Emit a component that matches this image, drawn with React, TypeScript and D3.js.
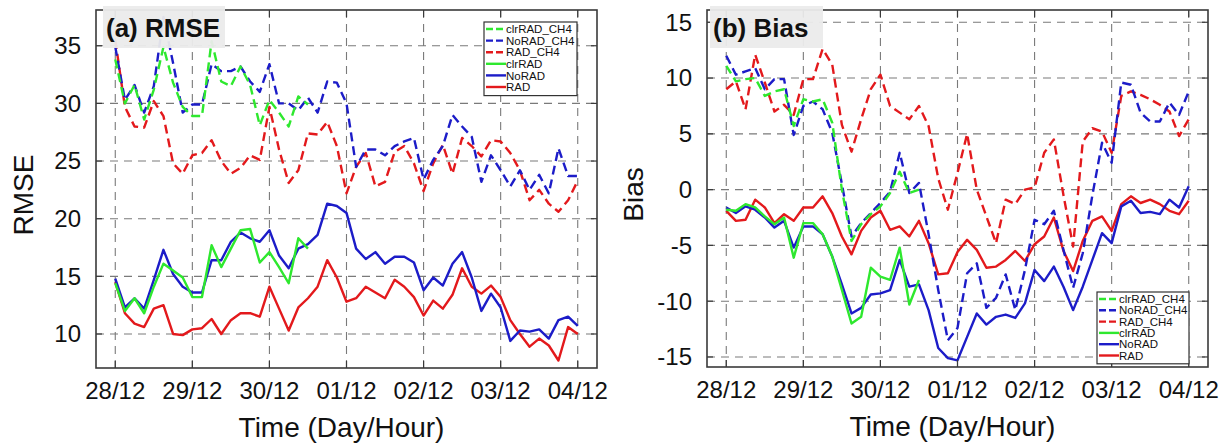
import React from "react";
import * as d3 from "d3";

// time axis: hours since 28/12 00h, 3-hourly samples
const dayLabels = ["28/12", "29/12", "30/12", "01/12", "02/12", "03/12", "04/12"];
const stepHours = 3;

// (a) RMSE
const rmseRAD = [14.5, 11.8, 10.9, 10.6, 12.2, 12.5, 10.0, 9.9, 10.4, 10.5, 11.3, 10.0, 11.2, 11.8, 11.8, 11.5, 14.1, 12.2, 10.3, 12.3, 13.1, 14.1, 16.4, 14.9, 12.8, 13.1, 14.1, 13.6, 13.1, 14.7, 14.1, 13.2, 11.6, 12.9, 12.2, 13.4, 15.7, 14.1, 13.5, 14.2, 13.2, 11.2, 10.0, 8.9, 9.6, 9.0, 7.7, 10.6, 10.0];
const rmseNoRAD = [14.8, 12.3, 13.1, 12.2, 14.7, 17.3, 15.2, 14.1, 13.6, 13.6, 16.4, 16.4, 18.0, 18.8, 18.3, 18.0, 19.0, 16.8, 15.7, 17.4, 17.8, 18.6, 21.3, 21.1, 20.5, 17.4, 16.5, 17.1, 16.1, 16.7, 16.7, 16.2, 13.8, 14.9, 14.2, 16.1, 17.1, 14.9, 12.0, 13.5, 12.3, 9.4, 10.3, 10.2, 10.4, 9.6, 11.2, 11.5, 10.7];
const rmseClrRAD = [14.4, 12.0, 13.1, 11.8, 14.1, 16.1, 15.5, 14.9, 13.2, 13.2, 17.7, 15.8, 17.4, 19.0, 19.1, 16.2, 17.1, 15.8, 14.4, 18.3, 17.4];
const rmseRADCH4 = [35.5, 29.7, 28.0, 27.9, 30.2, 28.9, 24.8, 23.9, 25.5, 25.7, 26.8, 25.0, 23.9, 24.4, 25.5, 25.1, 29.7, 26.0, 23.1, 24.2, 27.4, 27.3, 28.4, 26.3, 22.2, 24.5, 25.7, 22.8, 23.2, 25.8, 26.3, 24.8, 22.4, 24.8, 26.4, 23.9, 27.0, 26.3, 25.4, 26.8, 26.7, 25.7, 24.2, 21.6, 22.5, 21.3, 20.6, 21.6, 23.3];
const rmseNoRADCH4 = [34.9, 30.3, 31.6, 29.2, 31.5, 37.5, 33.5, 29.2, 29.9, 29.9, 33.4, 32.8, 32.8, 33.2, 31.9, 31.0, 33.4, 30.0, 30.0, 29.4, 30.5, 29.2, 31.9, 31.8, 30.0, 24.5, 26.0, 26.0, 25.5, 26.3, 26.7, 27.0, 23.4, 25.1, 26.3, 29.0, 28.0, 27.1, 23.2, 25.5, 24.2, 22.8, 24.2, 22.5, 23.8, 22.2, 26.1, 23.7, 23.7];
const rmseClrRADCH4 = [33.8, 30.0, 31.6, 28.6, 31.2, 34.9, 31.8, 29.7, 28.9, 28.9, 35.4, 31.9, 31.5, 33.2, 31.6, 28.1, 30.3, 29.2, 28.0, 30.6, 29.9];
const rmseTicks = [10, 15, 20, 25, 30, 35];

// (b) Bias
const biasRAD = [-1.9, -2.8, -2.7, -0.9, -1.6, -3.0, -2.2, -2.8, -1.6, -1.6, -0.6, -2.1, -4.2, -5.8, -3.7, -2.5, -1.9, -3.6, -3.3, -4.2, -2.8, -4.8, -7.6, -7.5, -5.6, -4.5, -5.4, -7.0, -6.9, -6.3, -5.5, -6.4, -4.9, -4.2, -2.5, -5.5, -7.3, -4.6, -2.8, -2.4, -3.7, -1.3, -0.6, -1.2, -0.9, -1.3, -1.9, -2.2, -1.0];
const biasNoRAD = [-1.6, -2.1, -1.5, -1.8, -2.5, -3.4, -2.8, -5.2, -3.3, -3.3, -4.0, -6.0, -8.5, -11.1, -10.6, -9.4, -9.3, -9.0, -6.3, -8.7, -8.5, -10.8, -14.2, -15.1, -15.3, -13.2, -11.1, -12.1, -11.4, -11.2, -11.5, -10.2, -7.2, -8.2, -6.9, -8.7, -10.8, -8.7, -6.3, -3.9, -4.8, -1.5, -1.0, -2.1, -2.0, -2.2, -0.9, -1.6, 0.3];
const biasClrRAD = [-1.8, -1.9, -1.3, -1.6, -2.4, -3.1, -2.5, -6.1, -3.0, -3.0, -4.0, -6.0, -9.0, -12.0, -11.4, -7.0, -7.8, -8.1, -5.2, -10.3, -8.1];
const biasRADCH4 = [9.0, 9.7, 7.2, 12.1, 9.6, 7.0, 7.6, 6.7, 9.9, 9.9, 12.6, 11.2, 5.8, 3.4, 6.3, 9.0, 10.3, 7.5, 6.9, 6.3, 7.5, 5.7, 1.0, -1.8, 1.5, 5.0, 0.0, -2.4, -4.8, -0.9, -1.3, 0.0, 0.2, 3.3, 4.5, -0.5, -5.1, 4.3, 5.5, 5.2, 3.3, 8.4, 8.8, 8.5, 8.1, 7.6, 7.0, 4.8, 6.3];
const biasNoRADCH4 = [12.0, 10.3, 10.6, 10.9, 9.0, 9.9, 9.9, 4.9, 7.5, 7.9, 7.2, 5.1, 0.5, -4.2, -3.0, -2.1, -1.2, -0.2, 3.3, -0.3, 0.6, -4.0, -9.0, -13.5, -12.4, -7.5, -6.6, -10.6, -9.7, -7.6, -10.8, -7.2, -2.7, -3.1, -1.9, -5.4, -8.8, -5.7, -0.5, 4.2, 2.4, 9.6, 9.4, 6.9, 6.1, 6.1, 7.8, 6.7, 8.8];
const biasClrRADCH4 = [11.1, 9.7, 9.9, 10.0, 8.4, 8.8, 9.0, 5.7, 8.1, 7.9, 8.1, 6.0, 0.0, -4.6, -3.1, -2.2, -1.5, -0.3, 1.6, -0.3, 0.0];
const biasTicks = [-15, -10, -5, 0, 5, 10, 15];

const legendNames = ["clrRAD_CH4", "NoRAD_CH4", "RAD_CH4", "clrRAD", "NoRAD", "RAD"];

const RED = "#e3191c";
const BLUE = "#1c1cc8";
const GREEN = "#2ee82e";
const FONT = "'Liberation Sans', Arial, Helvetica, sans-serif";

type Series = { name: string; values: number[]; color: string; dashed: boolean };

function seriesFor(vals: number[][]): Series[] {
  // draw order: RAD, NoRAD, clrRAD, RAD_CH4, NoRAD_CH4, clrRAD_CH4
  const [rad, norad, clr, radc, noradc, clrc] = vals;
  return [
    { name: "RAD", values: rad, color: RED, dashed: false },
    { name: "NoRAD", values: norad, color: BLUE, dashed: false },
    { name: "clrRAD", values: clr, color: GREEN, dashed: false },
    { name: "RAD_CH4", values: radc, color: RED, dashed: true },
    { name: "NoRAD_CH4", values: noradc, color: BLUE, dashed: true },
    { name: "clrRAD_CH4", values: clrc, color: GREEN, dashed: true },
  ];
}

type PanelProps = {
  left: number;
  right: number;
  top: number;
  bottom: number;
  yDomain: [number, number];
  yTicks: number[];
  series: Series[];
  title: string;
  titleBox: { dx: number; w: number };
  yTitle: string;
  yTitleX: number;
  legend: { x: number; y: number; w: number; rowH: number };
};

function Panel(p: PanelProps) {
  const x = d3.scaleLinear().domain([-6, 150]).range([p.left, p.right]);
  const y = d3.scaleLinear().domain(p.yDomain).range([p.bottom, p.top]);
  const xTicks = dayLabels.map((_, i) => i * 24);
  const line = d3
    .line<number>()
    .x((_, i) => x(i * stepHours))
    .y((v) => y(v));
  const byName: Record<string, Series> = {};
  p.series.forEach((s) => (byName[s.name] = s));
  const grid = "#7a7a7a";
  return (
    <g>
      {/* grid */}
      {p.yTicks.map((t) => (
        <line key={"gy" + t} x1={p.left} x2={p.right} y1={y(t)} y2={y(t)} stroke={grid} strokeWidth={1.1} strokeDasharray="8,6" />
      ))}
      {xTicks.map((t) => (
        <line key={"gx" + t} x1={x(t)} x2={x(t)} y1={p.top} y2={p.bottom} stroke={grid} strokeWidth={1.1} strokeDasharray="8,6" />
      ))}
      {/* series */}
      {p.series.map((s) => (
        <path
          key={s.name}
          d={line(s.values) || ""}
          fill="none"
          stroke={s.color}
          strokeWidth={2.4}
          strokeDasharray={s.dashed ? "9,5" : undefined}
          strokeLinejoin="round"
        />
      ))}
      {/* frame */}
      <rect x={p.left} y={p.top} width={p.right - p.left} height={p.bottom - p.top} fill="none" stroke="#3a3a3a" strokeWidth={1.6} />
      {/* ticks */}
      {xTicks.map((t) => (
        <g key={"tx" + t}>
          <line x1={x(t)} x2={x(t)} y1={p.bottom} y2={p.bottom - 7} stroke="#3a3a3a" strokeWidth={1.2} />
          <line x1={x(t)} x2={x(t)} y1={p.top} y2={p.top + 7} stroke="#3a3a3a" strokeWidth={1.2} />
          <text x={x(t)} y={p.bottom + 31} textAnchor="middle" fontSize={24} fontFamily={FONT} fill="#111">
            {dayLabels[t / 24]}
          </text>
        </g>
      ))}
      {p.yTicks.map((t) => (
        <g key={"ty" + t}>
          <line x1={p.left} x2={p.left + 6} y1={y(t)} y2={y(t)} stroke="#3a3a3a" strokeWidth={1.2} />
          <line x1={p.right} x2={p.right - 6} y1={y(t)} y2={y(t)} stroke="#3a3a3a" strokeWidth={1.2} />
          <text x={p.left - 15} y={y(t)} dy="0.35em" textAnchor="end" fontSize={24} fontFamily={FONT} fill="#111">
            {t}
          </text>
        </g>
      ))}
      {/* axis titles */}
      <text x={(p.left + p.right) / 2 - 5} y={p.bottom + 69} textAnchor="middle" fontSize={28} fontFamily={FONT} fill="#111">
        Time (Day/Hour)
      </text>
      <text
        transform={`translate(${p.yTitleX},${(p.top + p.bottom) / 2 + 6}) rotate(-90)`}
        textAnchor="middle"
        fontSize={28}
        fontFamily={FONT}
        fill="#111"
      >
        {p.yTitle}
      </text>
      {/* panel title */}
      <rect x={p.left + p.titleBox.dx} y={p.top - 4} width={p.titleBox.w} height={42} fill="#ebebeb" opacity={0.95} />
      <text x={p.left + p.titleBox.dx + 3} y={p.top + 27} fontSize={26} fontWeight="bold" fontFamily={FONT} fill="#111">
        {p.title}
      </text>
      {/* legend */}
      <rect
        x={p.legend.x}
        y={p.legend.y}
        width={p.legend.w}
        height={p.legend.rowH * legendNames.length + 4}
        fill="#fff"
        stroke="#333"
        strokeWidth={1.2}
      />
      {legendNames.map((n, i) => {
        const s = byName[n];
        const cy = p.legend.y + 7 + i * p.legend.rowH;
        return (
          <g key={"lg" + n}>
            <line
              x1={p.legend.x + 2}
              x2={p.legend.x + 22}
              y1={cy}
              y2={cy}
              stroke={s.color}
              strokeWidth={2.4}
              strokeDasharray={s.dashed ? "7,3" : undefined}
            />
            <text x={p.legend.x + 22} y={cy} dy="0.36em" fontSize={11.5} fontFamily={FONT} fill="#111">
              {n}
            </text>
          </g>
        );
      })}
    </g>
  );
}

export default function App() {
  const a = seriesFor([rmseRAD, rmseNoRAD, rmseClrRAD, rmseRADCH4, rmseNoRADCH4, rmseClrRADCH4]);
  const b = seriesFor([biasRAD, biasNoRAD, biasClrRAD, biasRADCH4, biasNoRADCH4, biasClrRADCH4]);
  return (
    <svg width={1229} height={448} style={{ position: "absolute", left: 0, top: 0, background: "#fff" }}>
      <rect width={1229} height={448} fill="#fff" />
      <Panel
        left={96}
        right={597}
        top={10}
        bottom={368}
        yDomain={[7.05, 38.1]}
        yTicks={rmseTicks}
        series={a}
        title="(a) RMSE"
        titleBox={{ dx: 7, w: 122 }}
        yTitle="RMSE"
        yTitleX={33}
        legend={{ x: 484, y: 22, w: 93, rowH: 11.6 }}
      />
      <Panel
        left={707}
        right={1208}
        top={10}
        bottom={367}
        yDomain={[-15.9, 16.1]}
        yTicks={biasTicks}
        series={b}
        title="(b) Bias"
        titleBox={{ dx: 3, w: 113 }}
        yTitle="Bias"
        yTitleX={643}
        legend={{ x: 1097, y: 292, w: 92, rowH: 11.3 }}
      />
    </svg>
  );
}
